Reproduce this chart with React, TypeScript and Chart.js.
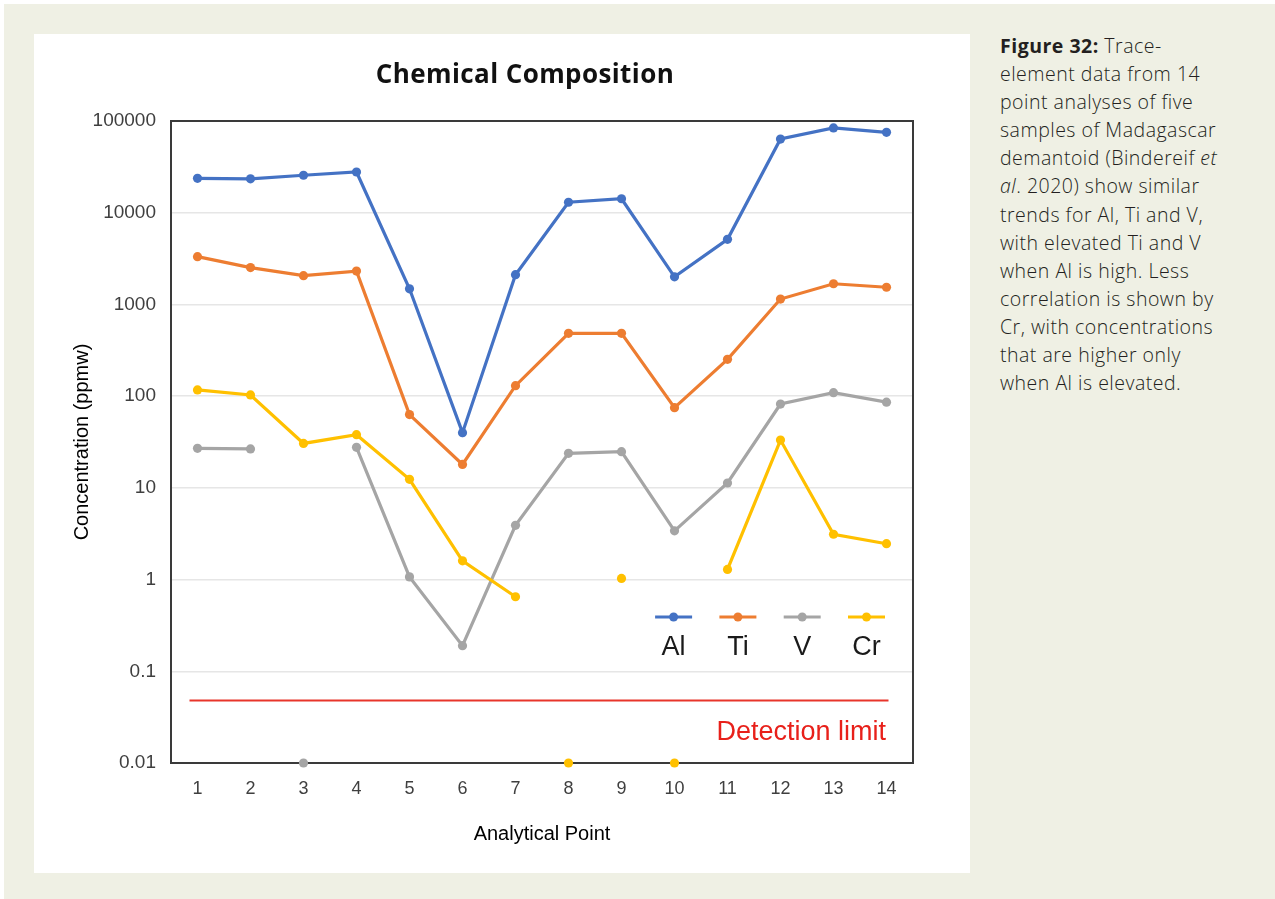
import React, { useEffect, useRef } from "react";
import { Chart, registerables } from "chart.js";

Chart.register(...registerables);

// ---------- data ----------
const POINTS = ["1", "2", "3", "4", "5", "6", "7", "8", "9", "10", "11", "12", "13", "14"];
const AL = [23700, 23400, 25600, 27800, 1480, 40, 2110, 13000, 14200, 2000, 5130, 63600, 84000, 75200];
const TI = [3320, 2520, 2060, 2310, 63, 18, 130, 484, 484, 74.8, 252, 1145, 1680, 1540];
const V = [27, 26.6, 0.01, 27.7, 1.07, 0.19, 3.9, 23.8, 24.8, 3.4, 11.3, 82, 109, 86];
const CR = [117, 103, 30.5, 38, 12.4, 1.6, 0.65, 0.01, 1.03, 0.01, 1.29, 33.2, 3.12, 2.46];
const SERIES_NAMES = ["Al", "Ti", "V", "Cr"];
const SERIES_COLORS = ["#4472c4", "#ed7d31", "#a5a5a5", "#ffc000"];
const Y_TICKS = [0.01, 0.1, 1, 10, 100, 1000, 10000, 100000];
const Y_TICK_LABELS = ["0.01", "0.1", "1", "10", "100", "1000", "10000", "100000"];
const BELOW_DETECTION = 0.01; // values plotted on the axis floor, not joined by lines
const DETECTION_LIMIT = 0.048;
const TITLE = "Chemical Composition";
const X_TITLE = "Analytical Point";
const Y_TITLE = "Concentration (ppmw)";
const DL_LABEL = "Detection limit";

const FONT = "'Liberation Sans', Arial, sans-serif";

const overlayPlugin = {
  id: "overlay",
  beforeDatasetsDraw(chart: any) {
    const { ctx, chartArea: a, scales } = chart;
    const x = scales.x;
    const y = scales.y;
    ctx.save();
    // detection limit line
    const yd = y.getPixelForValue(DETECTION_LIMIT);
    ctx.strokeStyle = "#e8352b";
    ctx.lineWidth = 2;
    ctx.beginPath();
    ctx.moveTo(x.getPixelForValue(0) - 8, yd);
    ctx.lineTo(x.getPixelForValue(POINTS.length - 1) + 2, yd);
    ctx.stroke();
    // plot frame
    ctx.strokeStyle = "#3a3a3a";
    ctx.lineWidth = 2;
    ctx.strokeRect(a.left, a.top, a.right - a.left, a.bottom - a.top);
    ctx.restore();
  },
  afterDraw(chart: any) {
    const { ctx, chartArea: a } = chart;
    ctx.save();
    // title
    ctx.fillStyle = "#111";
    ctx.font = "bold 26px 'Open Sans', sans-serif";
    try {
      (ctx as any).letterSpacing = "0.4px";
    } catch (e) {}
    ctx.textAlign = "center";
    ctx.textBaseline = "alphabetic";
    ctx.fillText(TITLE, 491, 49);
    try {
      (ctx as any).letterSpacing = "0px";
    } catch (e) {}
    // detection label
    ctx.fillStyle = "#e8201a";
    ctx.font = `27px ${FONT}`;
    ctx.textAlign = "right";
    ctx.fillText(DL_LABEL, a.right - 27, a.top + 619);
    // legend
    const step = 64.3;
    const w = 37;
    const startX = a.right - 28 - w - step * (SERIES_NAMES.length - 1);
    const ly = a.top + 496;
    SERIES_NAMES.forEach((name, i) => {
      const x0 = startX + i * step;
      const c = SERIES_COLORS[i];
      ctx.strokeStyle = c;
      ctx.lineWidth = 3;
      ctx.beginPath();
      ctx.moveTo(x0, ly);
      ctx.lineTo(x0 + w, ly);
      ctx.stroke();
      ctx.fillStyle = c;
      ctx.beginPath();
      ctx.arc(x0 + w / 2, ly, 4.5, 0, Math.PI * 2);
      ctx.fill();
      ctx.fillStyle = "#1a1a1a";
      ctx.font = `27px ${FONT}`;
      ctx.textAlign = "center";
      ctx.fillText(name, x0 + w / 2, a.top + 534);
    });
    ctx.restore();
  },
};

function ChartPanel() {
  const ref = useRef<HTMLCanvasElement | null>(null);
  useEffect(() => {
    if (!ref.current) return;
    const series = [AL, TI, V, CR];
    const chart = new Chart(ref.current, {
      type: "line",
      data: {
        labels: POINTS,
        datasets: series.map((d, i) => ({
          label: SERIES_NAMES[i],
          data: d,
          borderColor: SERIES_COLORS[i],
          backgroundColor: SERIES_COLORS[i],
          pointBackgroundColor: SERIES_COLORS[i],
          pointBorderColor: SERIES_COLORS[i],
          borderWidth: 3.2,
          pointRadius: 4.6,
          pointHoverRadius: 4.6,
          pointBorderWidth: 0,
          tension: 0,
          clip: false,
          order: 3 - i,
          segment: {
            borderColor: (c: any) =>
              c.p0.parsed.y <= BELOW_DETECTION || c.p1.parsed.y <= BELOW_DETECTION
                ? "rgba(0,0,0,0)"
                : undefined,
          },
        })),
      },
      options: {
        responsive: false,
        animation: false,
        devicePixelRatio: 1,
        events: [],
        layout: { padding: { top: 87, right: 57, bottom: 0, left: 0 } },
        plugins: {
          legend: { display: false },
          tooltip: { enabled: false },
          title: { display: false },
        },
        scales: {
          x: {
            type: "category",
            offset: true,
            grid: { display: false, drawTicks: false },
            border: { display: false },
            ticks: { font: { family: FONT, size: 18 }, color: "#3f3f3f", padding: 15, maxRotation: 0 },
            title: {
              display: true,
              text: X_TITLE,
              font: { family: FONT, size: 20 },
              color: "#000",
              padding: { top: 0, bottom: 27 },
            },
            afterFit(scale: any) {
              scale.height = 110;
            },
          },
          y: {
            type: "logarithmic",
            min: 0.01,
            max: 100000,
            grid: { color: "#e6e6e6", lineWidth: 1.5, drawTicks: false },
            border: { display: false },
            afterBuildTicks(scale: any) {
              scale.ticks = Y_TICKS.map((v) => ({ value: v }));
            },
            ticks: {
              autoSkip: false,
              font: { family: FONT, size: 19 },
              color: "#3f3f3f",
              padding: 15,
              callback: (v: any) => {
                const i = Y_TICKS.findIndex((t) => Math.abs(t - Number(v)) / t < 1e-6);
                return i >= 0 ? Y_TICK_LABELS[i] : "";
              },
            },
            title: {
              display: true,
              text: Y_TITLE,
              font: { family: FONT, size: 20 },
              color: "#000",
              padding: { top: 36, bottom: 0 },
            },
            afterFit(scale: any) {
              scale.width = 137;
            },
          },
        },
      },
      plugins: [overlayPlugin],
    } as any);
    return () => chart.destroy();
  }, []);
  return <canvas ref={ref} width={936} height={839} style={{ display: "block" }} />;
}

const captionStyle: React.CSSProperties = {
  position: "absolute",
  left: 1000,
  top: 32,
  fontFamily: "'Open Sans', sans-serif",
  fontWeight: 300,
  fontSize: 19.5,
  letterSpacing: "0.5px",
  lineHeight: "28.1px",
  color: "#231f20",
  whiteSpace: "nowrap",
};

export default function App() {
  return (
    <div style={{ position: "fixed", left: 0, top: 0, width: 1275, height: 899, background: "#ffffff", overflow: "hidden" }}>
      <div style={{ position: "absolute", left: 4, top: 4, right: 0, bottom: 0, background: "#eff0e4" }} />
      <div style={{ position: "absolute", left: 34, top: 34, width: 936, height: 839, background: "#ffffff" }}>
        <ChartPanel />
      </div>
      <div style={captionStyle}>
        <b style={{ fontWeight: 700 }}>Figure 32:</b> Trace-
        <br />element data from 14
        <br />point analyses of five
        <br />samples of Madagascar
        <br />demantoid (Bindereif <i>et</i>
        <br /><i>al</i>. 2020) show similar
        <br />trends for Al, Ti and V,
        <br />with elevated Ti and V
        <br />when Al is high. Less
        <br />correlation is shown by
        <br />Cr, with concentrations
        <br />that are higher only
        <br />when Al is elevated.
      </div>
    </div>
  );
}
